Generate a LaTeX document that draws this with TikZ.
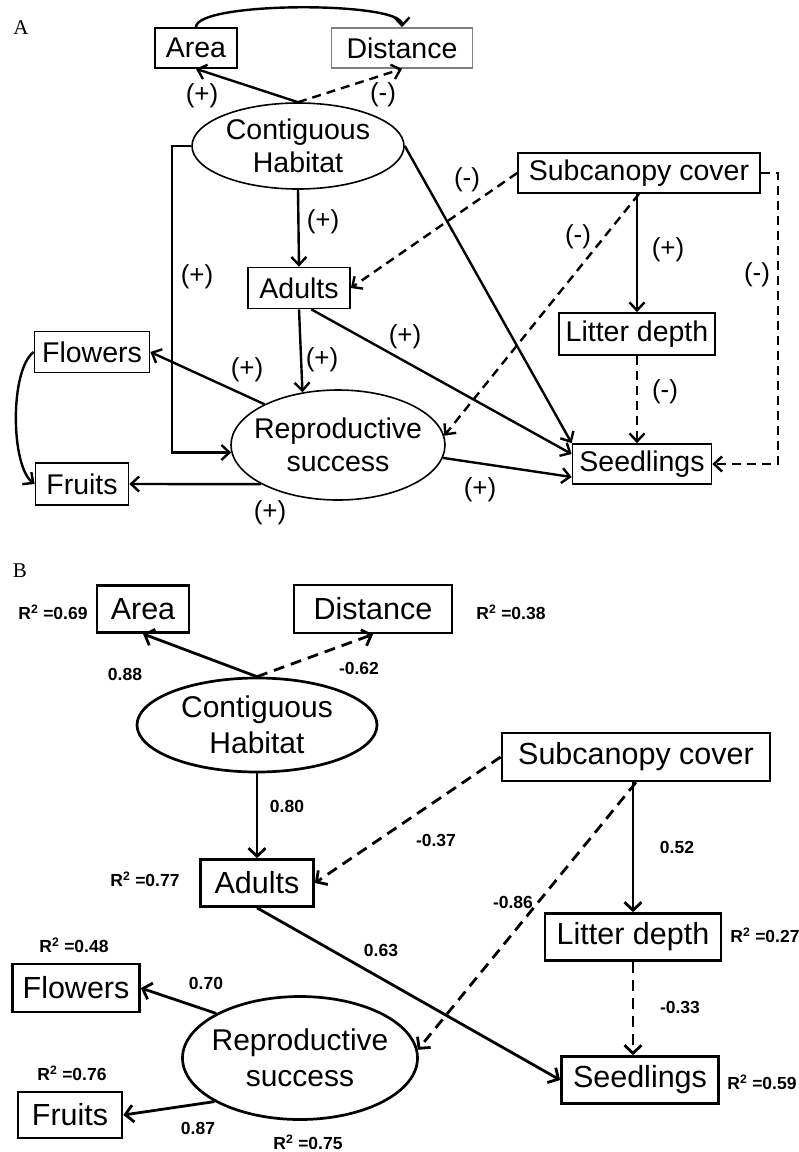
\documentclass[tikz,border=0pt]{standalone}
\usepackage{fontspec}
\setmainfont{Liberation Sans}
\newfontfamily\serifA{Liberation Serif}
\usetikzlibrary{arrows.meta,calc,shapes.geometric}
\begin{document}
\begin{tikzpicture}[x=1pt,y=-1pt,
 every node/.style={inner sep=0pt},
 bA/.style={draw,rectangle,line width=1.7pt,minimum height=40pt,font=\fontsize{28.5}{33}\selectfont},
 eA/.style={draw,ellipse,line width=1.6pt,align=center,inner xsep=-60pt,inner ysep=-25pt,font=\fontsize{28.5}{33}\selectfont},
 bB/.style={draw,rectangle,line width=2.7pt,minimum height=47pt,font=\fontsize{30.5}{36}\selectfont},
 eB/.style={draw,ellipse,line width=2.7pt,align=center,inner xsep=-60pt,inner ysep=-25pt,font=\fontsize{30}{36}\selectfont},
 lA/.style={font=\fontsize{26}{30}\selectfont},
 lB/.style={font=\bfseries\fontsize{17.5}{20}\selectfont},
 pl/.style={font=\serifA\fontsize{21}{24}\selectfont},
 aA/.style={line width=2.4pt,-{Straight Barb[length=8pt,width=15pt]}},
 dA/.style={aA,dash pattern=on 9pt off 6pt},
 aB/.style={line width=2.8pt,-{Straight Barb[length=8pt,width=17pt]}},
 dB/.style={aB,dash pattern=on 11pt off 7pt},
]
\useasboundingbox (0,0) rectangle (799,1152);
% ---------- Panel A ----------
\node[pl] (labA) at (21,28) {A};
\node[bA,minimum width=82pt] (areaA) at (196,48) {Area};
\node[bA,minimum width=141pt,draw=gray] (distA) at (402,48) {Distance};
\node[eA,minimum width=212pt,minimum height=86pt] (chA) at (298,146) {Contiguous\\Habitat};
\node[bA,minimum width=242pt] (subA) at (639,173) {Subcanopy cover};
\node[bA,minimum width=102pt,minimum height=41pt] (adA) at (299,288) {Adults};
\node[bA,minimum width=156pt,minimum height=42pt] (litA) at (637,334) {Litter depth};
\node[bA,minimum width=115pt,minimum height=41pt] (flA) at (92,352) {Flowers};
\node[eA,minimum width=214pt,minimum height=110pt] (rsA) at (338,445) {Reproductive\\success};
\node[bA,minimum width=93pt,minimum height=42pt] (frA) at (82,484) {Fruits};
\node[bA,minimum width=139pt] (seA) at (642,464) {Seedlings};

\draw[aA] (areaA.north) .. controls +(0,-26) and +(0,-26) .. (distA.north);
\draw[aA] (chA.north) -- (areaA.south);
\draw[dA] (chA.north) -- (distA.south);
\draw[aA] (chA.east) -- (seA.north west);
\draw[dA] (subA.west) -- (adA.east);
\draw[dA] (subA.south) -- (rsA.5);
\draw[dA] (subA.east) -- ++(17,0) |- (seA.east);
\draw[aA] (chA.west) -- ++(-19,0) |- (rsA.184);
\draw[aA] (chA.south) -- (adA.north);
\draw[aA] (adA.south) -- (rsA.124);
\draw[aA] (adA.-60) -- ($(seA.west)+(0,-10)$);
\draw[aA] (rsA.151) -- (flA.east);
\draw[aA] (rsA.207) -- (frA.east);
\draw[aA] (rsA.353) -- ($(seA.west)+(0,13)$);
\draw[dA] (litA.south) -- (litA.south |- seA.north);
\draw[aA] (litA.north |- subA.south) -- (litA.north);
\draw[aA] (flA.west) .. controls +(-24,18) and +(-24,-18) .. (frA.west);

\node[lA] (sa1) at (202,96) {(+)};
\node[lA] (sa2) at (383,95) {(-)};
\node[lA] (sa3) at (467,180) {(-)};
\node[lA] (sa4) at (323,222) {(+)};
\node[lA] (sa5) at (578,237) {(-)};
\node[lA] (sa6) at (668,250) {(+)};
\node[lA] (sa7) at (197,277) {(+)};
\node[lA] (sa8) at (757,275) {(-)};
\node[lA] (sa9) at (405,337) {(+)};
\node[lA] (sa10) at (322,360) {(+)};
\node[lA] (sa11) at (247,370) {(+)};
\node[lA] (sa12) at (665,392) {(-)};
\node[lA] (sa13) at (480,490) {(+)};
\node[lA] (sa14) at (270,513) {(+)};

% ---------- Panel B ----------
\node[pl] (labB) at (20,571) {B};
\node[bB,minimum width=92pt] (arB) at (143,609) {Area};
\node[bB,minimum width=158pt,minimum height=48pt] (diB) at (373,609) {Distance};
\node[eB,minimum width=240pt,minimum height=94pt] (chB) at (257,725) {Contiguous\\Habitat};
\node[bB,minimum width=268pt,minimum height=48pt] (suB) at (636,757) {Subcanopy cover};
\node[bB,minimum width=113pt] (adB) at (257,883) {Adults};
\node[bB,minimum width=176pt] (liB) at (633,937) {Litter depth};
\node[bB,minimum width=127pt,minimum height=48pt] (flB) at (76,988) {Flowers};
\node[eB,minimum width=235pt,minimum height=123pt] (rsB) at (300,1058) {Reproductive\\success};
\node[bB,minimum width=104pt,minimum height=46pt] (frB) at (70,1115) {Fruits};
\node[bB,minimum width=157pt] (seB) at (640,1080) {Seedlings};

\draw[aB] (chB.north) -- (arB.south);
\draw[dB] (chB.north) -- (diB.south);
\draw[aB] (chB.south) -- (adB.north);
\draw[dB] (suB.west) -- (adB.east);
\draw[dB] (suB.south) -- (rsB.4);
\draw[aB] (liB.north |- suB.south) -- (liB.north);
\draw[dB] (liB.south) -- (liB.south |- seB.north);
\draw[aB] (adB.south) -- (seB.west);
\draw[aB] (rsB.152) -- (flB.east);
\draw[aB] (rsB.207) -- (frB.east);

\node[lB] (r1) at (53,612) {R\textsuperscript{2} =0.69};
\node[lB] (r2) at (511,612) {R\textsuperscript{2} =0.38};
\node[lB] (c1) at (125,674) {0.88};
\node[lB] (c2) at (359,668) {-0.62};
\node[lB] (c3) at (287,806) {0.80};
\node[lB] (r3) at (145,879) {R\textsuperscript{2} =0.77};
\node[lB] (c4) at (436,840) {-0.37};
\node[lB] (c5) at (677,847) {0.52};
\node[lB] (c6) at (513,902) {-0.86};
\node[lB] (r4) at (765,935) {R\textsuperscript{2} =0.27};
\node[lB] (r5) at (74,945) {R\textsuperscript{2} =0.48};
\node[lB] (c7) at (381,950) {0.63};
\node[lB] (c8) at (206,983) {0.70};
\node[lB] (c9) at (680,1007) {-0.33};
\node[lB] (r6) at (72,1073) {R\textsuperscript{2} =0.76};
\node[lB] (r7) at (762,1082) {R\textsuperscript{2} =0.59};
\node[lB] (c10) at (198,1128) {0.87};
\node[lB] (r8) at (308,1142) {R\textsuperscript{2} =0.75};
\end{tikzpicture}
\end{document}
